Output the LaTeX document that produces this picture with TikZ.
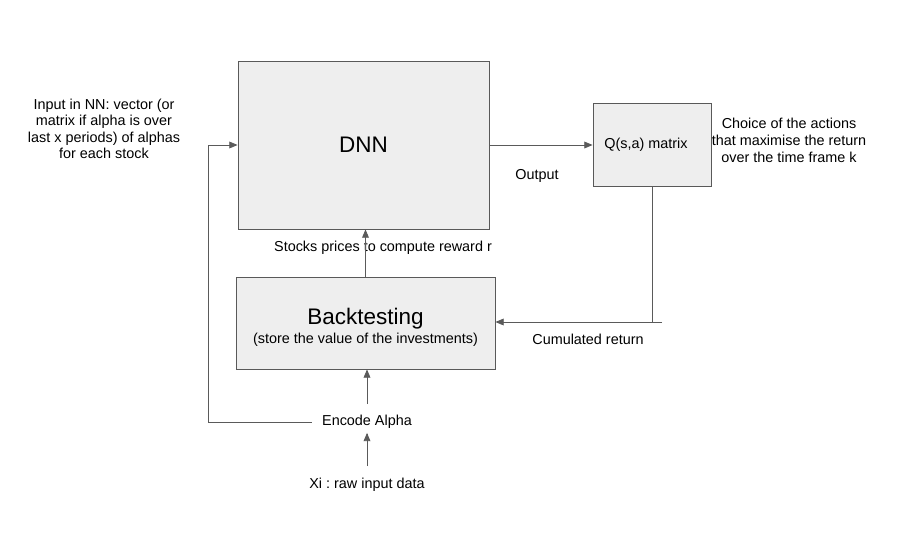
\documentclass[tikz,border=0pt]{standalone}
\usepackage{fontspec}
\setmainfont{Liberation Sans}
\usetikzlibrary{positioning,arrows,calc}
\definecolor{boxfill}{HTML}{EEEEEE}
\definecolor{boxline}{HTML}{595959}
\definecolor{wire}{HTML}{5A5A5A}
\frenchspacing
\tikzset{
  block/.style={draw=boxline, fill=boxfill, line width=0.9pt, inner sep=0pt, align=center},
  lbl/.style={inner sep=1pt, font=\fontsize{14.4}{16.5}\selectfont, align=center},
  wirel/.style={draw=wire, line width=0.9pt},
  flow/.style={wirel, -triangle 45},
  big/.style={font=\fontsize{22.5}{24}\selectfont}
}
\begin{document}
\begin{tikzpicture}[x=1pt, y=-1pt]
    \useasboundingbox (0,0) rectangle (901,536);

    % boxes
    \node[block, minimum width=251pt, minimum height=168pt, big] (dnn) at (363.5,145) {DNN};
    \node[block, minimum width=118pt, minimum height=83pt, lbl, inner sep=0pt] (qmat) at (652,144.5) {Q(s,a) matrix\hspace*{12pt}};
    \node[block, minimum width=259pt, minimum height=92pt] (back) at (365.5,323)
        {{\fontsize{22.5}{24}\selectfont\rule{0pt}{25pt}Backtesting}\\[3pt]{\fontsize{14.4}{16}\selectfont (store the value of the investments)}};

    % free texts
    \node[lbl] (input) at (104,129) {Input in NN: vector (or\\matrix if alpha is over\\last x periods) of alphas\\for each stock};
    \node[lbl, font=\fontsize{14.4}{17}\selectfont] (choice) at (789,140) {Choice of the actions\\that maximise the return\\over the time frame k};
    \node[lbl] (output) at (537,176) {Output};
    \node[lbl] (stocks) at (383,248) {Stocks prices to compute reward r};
    \node[lbl] (cumul) at (588,339) {Cumulated return};
    \node[lbl] (encode) at (367,422) {Encode Alpha};
    \node[lbl] (xi) at (367,485) {Xi : raw input data};

    \coordinate (cumtail) at (662,322);
    \coordinate (loopbot) at (encode.west -| 208,0);

    % connectors
    \draw[flow]  (dnn.east) -- (qmat.west |- dnn.east);
    \draw[wirel] (qmat.south) -- (qmat.south |- cumtail);
    \draw[flow]  (cumtail) -- (back.east |- cumtail);
    \draw[flow]  (back.north) -- (back.north |- dnn.south);
    \draw[flow, shorten <=10pt]  (encode.north) -- (encode.north |- back.south);
    \draw[flow, shorten <=11pt, shorten >=3pt]  (xi.north) -- (encode.south);
    \draw[flow, shorten <=9pt]  (encode.west) -- (loopbot) |- (dnn.west);
  \end{tikzpicture}
\end{document}
